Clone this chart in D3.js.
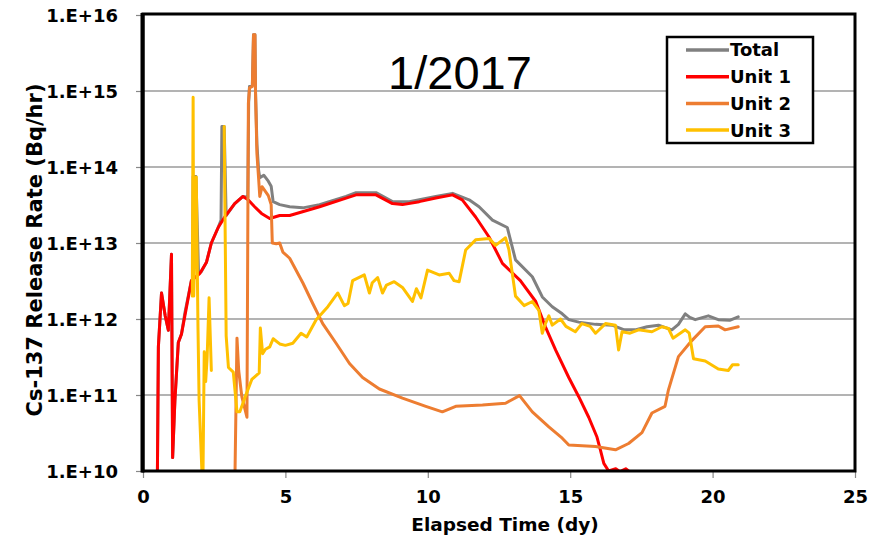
<!DOCTYPE html>
<html>
<head>
<meta charset="utf-8">
<script src="https://cdn.jsdelivr.net/npm/d3@7"></script>
<style>
  html, body { margin: 0; padding: 0; background: #fff; }
  svg { display: block; }
  .tick-label { font-family: "DejaVu Sans", sans-serif; font-weight: bold; font-size: 18px; fill: #000; }
</style>
</head>
<body>
<svg id="chart" width="873" height="549"></svg>
<script>
// ---- DATA (elapsed days, Cs-137 release rate in Bq/hr) ----
const chartTitle = "1/2017";
const xLabel = "Elapsed Time (dy)";
const yLabel = "Cs-137 Release Rate (Bq/hr)";
const xTicks = [0, 5, 10, 15, 20, 25];
const yTicks = [1e10, 1e11, 1e12, 1e13, 1e14, 1e15, 1e16];
const yTickLabels = ["1.E+10", "1.E+11", "1.E+12", "1.E+13", "1.E+14", "1.E+15", "1.E+16"];
const seriesNames = ["Total", "Unit 1", "Unit 2", "Unit 3"];
const seriesColors = ["#808080", "#ff0000", "#ed7d31", "#ffc000"];

const total = [
  [0.50,5e9],[0.54,4.3e11],[0.65,2.2e12],[0.78,1.1e12],[0.89,7.1e11],[1.00,7.1e12],[1.04,1.5e10],
  [1.12,8.5e10],[1.24,4.9e11],[1.35,6.3e11],[1.47,1.2e12],[1.70,3.2e12],[1.74,3.3e12],[1.76,7.5e13],
  [1.86,7.5e13],[1.95,4.0e12],[2.05,4.2e12],[2.23,5.6e12],[2.40,1.0e13],[2.64,1.6e13],[2.74,2.0e13],
  [2.77,3.4e14],[2.85,3.4e14],[2.92,2.3e13],[3.22,3.3e13],[3.51,4.1e13],[3.68,4.0e13],[3.71,7e14],
  [3.74,1.15e15],[3.84,1.2e15],[3.88,5.5e15],[3.93,5.5e15],[3.95,1.0e15],[4.00,2.0e14],[4.06,9e13],
  [4.10,7.2e13],[4.24,7.8e13],[4.40,6.5e13],[4.50,5.6e13],[4.57,3.5e13],[4.80,3.2e13],[5.15,3.0e13],
  [5.61,2.9e13],[6.20,3.2e13],[7.13,4.1e13],[7.48,4.6e13],[8.18,4.6e13],[8.76,3.5e13],[9.35,3.5e13],
  [10.28,4.1e13],[10.87,4.5e13],[11.45,3.7e13],[11.80,3.0e13],[12.27,2.0e13],[12.79,1.6e13],
  [13.08,6.0e12],[13.67,3.6e12],[14.02,1.95e12],[14.37,1.45e12],[14.72,1.17e12],[14.95,9.8e11],
  [15.30,9.1e11],[15.89,8.5e11],[16.47,8.3e11],[16.90,7.2e11],[17.28,7.2e11],[17.70,7.9e11],
  [18.10,8.3e11],[18.57,7.2e11],[18.80,8.5e11],[19.04,1.17e12],[19.20,1.05e12],[19.39,9.8e11],
  [19.85,1.1e12],[20.20,9.8e11],[20.60,9.6e11],[20.90,1.07e12]
];
const unit1 = [
  [0.50,5e9],[0.54,4.3e11],[0.65,2.2e12],[0.78,1.1e12],[0.89,7.1e11],[1.00,7.1e12],[1.04,1.5e10],
  [1.12,8.5e10],[1.24,4.9e11],[1.35,6.3e11],[1.47,1.1e12],[1.70,3.2e12],[2.00,4.0e12],[2.23,5.6e12],
  [2.40,1.0e13],[2.64,1.6e13],[2.87,2.2e13],[3.22,3.3e13],[3.51,4.1e13],[3.69,3.7e13],[3.92,3.0e13],
  [4.16,2.45e13],[4.45,2.1e13],[4.80,2.3e13],[5.15,2.3e13],[6.20,3.0e13],[7.13,3.9e13],[7.48,4.3e13],
  [8.18,4.3e13],[8.76,3.3e13],[9.11,3.2e13],[9.70,3.5e13],[10.28,3.9e13],[10.87,4.3e13],[11.21,3.7e13],
  [11.68,2.2e13],[12.15,1.2e13],[12.62,5.4e12],[13.25,3.2e12],[13.79,1.7e12],[14.13,7.9e11],
  [14.49,3.9e11],[14.95,1.7e11],[15.30,9.5e10],[15.65,5.1e10],[15.94,2.8e10],[16.06,1.9e10],
  [16.18,1.26e10],[16.35,1.0e10],[16.60,1.07e10],[16.75,9.8e9],[16.95,1.07e10],[17.05,1.0e10]
];
const unit2 = [
  [3.22,5e9],[3.30,5.6e11],[3.36,2.1e11],[3.47,9.5e10],[3.65,5.1e10],[3.70,6.9e14],[3.74,1.1e15],
  [3.84,1.15e15],[3.88,5.5e15],[3.93,5.5e15],[3.95,1.0e15],[4.00,1.5e14],[4.06,7e13],[4.10,4.1e13],
  [4.18,5.5e13],[4.26,5.0e13],[4.40,4.2e13],[4.50,3.2e13],[4.54,1.0e13],[4.68,9.8e12],[4.80,1.0e13],
  [4.91,7.6e12],[5.15,6.3e12],[5.61,3.0e12],[5.96,1.6e12],[6.31,8.7e11],[6.78,4.8e11],[7.25,2.6e11],
  [7.71,1.7e11],[8.30,1.2e11],[9.11,9.1e10],[9.93,7.1e10],[10.51,6.0e10],[10.98,7.1e10],[11.92,7.4e10],
  [12.73,7.8e10],[13.22,9.8e10],[13.67,6.0e10],[14.25,3.8e10],[14.72,2.7e10],[14.95,2.2e10],
  [15.89,2.1e10],[16.59,1.9e10],[17.05,2.3e10],[17.52,3.2e10],[17.87,5.8e10],[18.33,7.1e10],
  [18.45,1.17e11],[18.80,3.2e11],[19.27,5.2e11],[19.74,7.9e11],[20.20,8.1e11],[20.44,7.2e11],[20.90,7.9e11]
];
const unit3 = [
  [1.73,2.0e12],[1.76,8.3e14],[1.78,2.0e12],[1.87,7.4e13],[1.93,8e11],[1.97,8.5e10],[2.10,5e9],
  [2.15,3.7e11],[2.20,1.5e11],[2.25,3.0e11],[2.32,1.9e12],[2.40,2.1e11],[2.60,null],
  [2.85,3.4e14],[2.92,6.0e11],[3.00,2.3e11],[3.17,2.0e11],[3.30,6.0e10],[3.40,6.0e10],[3.58,9.3e10],
  [3.82,1.6e11],[4.08,1.95e11],[4.12,7.6e11],[4.20,3.5e11],[4.30,4.0e11],[4.45,4.3e11],[4.57,5.5e11],
  [4.80,4.7e11],[5.00,4.5e11],[5.26,4.8e11],[5.55,6.5e11],[5.75,5.8e11],[6.08,9.8e11],[6.49,1.45e12],
  [6.84,2.2e12],[7.07,1.5e12],[7.20,1.6e12],[7.36,3.2e12],[7.77,3.8e12],[7.95,2.2e12],[8.05,3.0e12],
  [8.24,3.5e12],[8.41,2.2e12],[8.55,2.8e12],[8.82,3.1e12],[9.11,2.6e12],[9.46,1.7e12],[9.60,2.5e12],
  [9.76,1.9e12],[9.99,4.4e12],[10.40,3.8e12],[10.75,4.0e12],[10.92,3.2e12],[11.10,3.1e12],[11.33,8.1e12],
  [11.68,1.1e13],[12.15,1.15e13],[12.38,9.3e12],[12.73,1.17e13],[12.85,8.1e12],[13.08,2.0e12],
  [13.38,1.5e12],[13.67,1.7e12],[13.90,1.3e12],[14.02,6.5e11],[14.13,8.7e11],[14.25,1.1e12],
  [14.37,8.3e11],[14.66,1.0e12],[14.85,8.0e11],[15.18,6.8e11],[15.41,8.7e11],[15.70,8.0e11],
  [15.89,6.5e11],[16.24,8.7e11],[16.59,8.3e11],[16.70,3.9e11],[16.82,6.8e11],[17.10,6.5e11],
  [17.40,7.2e11],[17.87,6.8e11],[18.22,7.9e11],[18.45,7.5e11],[18.61,5.6e11],[19.04,7.2e11],
  [19.18,6.5e11],[19.33,3.0e11],[19.74,2.8e11],[20.20,2.2e11],[20.55,2.1e11],[20.70,2.5e11],[20.90,2.5e11]
];
const seriesData = [total, unit1, unit2, unit3];

// ---- DRAWING ----
const svg = d3.select("#chart");
const mLeft = 143, mRight = 855, mTop = 15, mBottom = 471;
const x = d3.scaleLinear().domain([0, 25]).range([mLeft, mRight]);
const y = d3.scaleLog().domain([1e10, 1e16]).range([mBottom, mTop]);

// gridlines
svg.append("g").selectAll("line").data(yTicks.slice(1, -1)).join("line")
  .attr("x1", mLeft).attr("x2", mRight)
  .attr("y1", d => y(d)).attr("y2", d => y(d))
  .attr("stroke", "#9a9a9a").attr("stroke-width", 1.6);

// y axis
const yAxis = d3.axisLeft(y).tickValues(yTicks)
  .tickFormat((d, i) => yTickLabels[i]).tickSize(7).tickPadding(18);
const gy = svg.append("g").attr("transform", `translate(${mLeft},0)`).call(yAxis);
gy.select(".domain").remove();
gy.selectAll(".tick line").attr("stroke", "#888").attr("stroke-width", 1.2);
gy.selectAll(".tick text").attr("class", "tick-label").attr("dy", "0.36em");

// x axis
const xAxis = d3.axisBottom(x).tickValues(xTicks).tickSize(7).tickPadding(11);
const gx = svg.append("g").attr("transform", `translate(0,${mBottom})`).call(xAxis);
gx.select(".domain").remove();
gx.selectAll(".tick line").attr("stroke", "#888").attr("stroke-width", 1.2);
gx.selectAll(".tick text").attr("class", "tick-label").attr("dy", "0.75em");

// clip
svg.append("clipPath").attr("id", "plotclip").append("rect")
  .attr("x", mLeft).attr("y", mTop).attr("width", mRight - mLeft).attr("height", mBottom - mTop);

const line = d3.line()
  .defined(d => d[1] != null)
  .x(d => x(d[0])).y(d => y(d[1]));

const gLines = svg.append("g").attr("clip-path", "url(#plotclip)");
seriesData.forEach((data, i) => {
  gLines.append("path").datum(data)
    .attr("d", line)
    .attr("fill", "none")
    .attr("stroke", seriesColors[i])
    .attr("stroke-width", 3)
    .attr("stroke-linejoin", "round")
    .attr("stroke-linecap", "round");
});

// frame
svg.append("rect").attr("x", mLeft).attr("y", mTop - 1).attr("width", mRight - mLeft).attr("height", mBottom - mTop + 1)
  .attr("fill", "none").attr("stroke", "#000").attr("stroke-width", 3);
svg.append("line").attr("x1", mLeft - 0.5).attr("x2", mLeft - 0.5).attr("y1", mTop - 2).attr("y2", mBottom + 1.5)
  .attr("stroke", "#000").attr("stroke-width", 4);

// title
svg.append("text").attr("x", 460).attr("y", 89).attr("text-anchor", "middle")
  .style("font-family", "'Liberation Sans', Arial, sans-serif").style("font-size", "47px")
  .text(chartTitle);

// axis titles
svg.append("text").attr("x", (mLeft + mRight) / 2 + 6).attr("y", 531).attr("text-anchor", "middle")
  .style("font-family", "'DejaVu Sans', sans-serif").style("font-weight", "bold").style("font-size", "18.5px")
  .text(xLabel);
svg.append("text").attr("transform", "translate(42,250) rotate(-90)").attr("text-anchor", "middle")
  .style("font-family", "'DejaVu Sans', sans-serif").style("font-weight", "bold").style("font-size", "21px")
  .text(yLabel);

// legend
const lg = svg.append("g");
lg.append("rect").attr("x", 667).attr("y", 37).attr("width", 146).attr("height", 106)
  .attr("fill", "#fff").attr("stroke", "#000").attr("stroke-width", 2.5);
seriesNames.forEach((name, i) => {
  const ly = 50 + i * 26.7;
  lg.append("line").attr("x1", 686).attr("x2", 729).attr("y1", ly).attr("y2", ly)
    .attr("stroke", seriesColors[i]).attr("stroke-width", 3.5);
  lg.append("text").attr("x", 730).attr("y", ly).attr("dy", "0.36em")
    .style("font-family", "'DejaVu Sans', sans-serif").style("font-weight", "bold").style("font-size", "18px")
    .text(name);
});
</script>
</body>
</html>
